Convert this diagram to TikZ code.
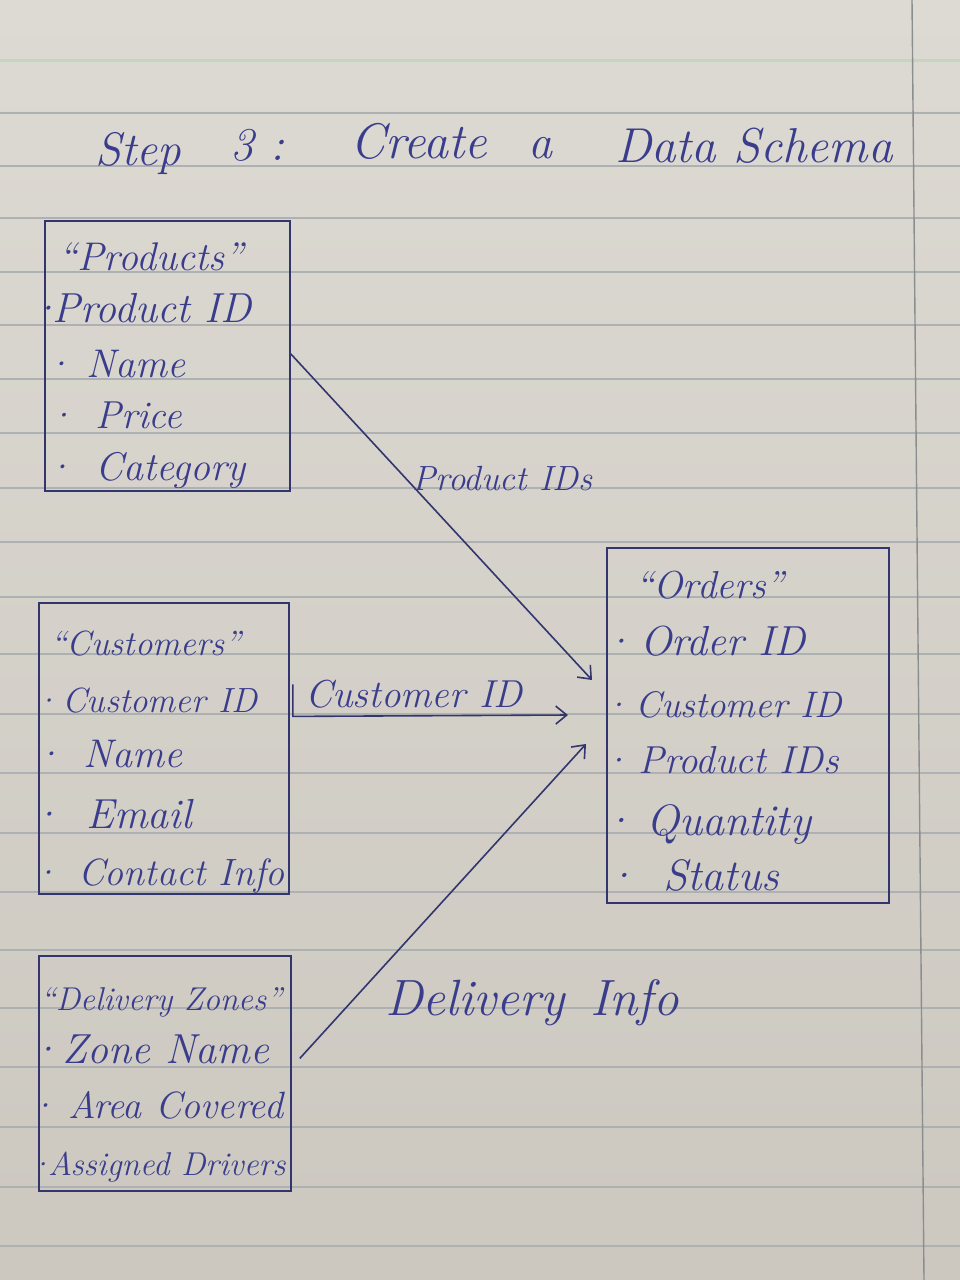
\documentclass[tikz,border=0pt]{standalone}
\usepackage{fontspec}
\usetikzlibrary{arrows.meta}
\definecolor{paper}{HTML}{DDDAD3}
\definecolor{paperdark}{HTML}{CCC8C0}
\definecolor{rule}{HTML}{AEB1B2}
\definecolor{ink}{HTML}{3A3D8C}
\definecolor{boxink}{HTML}{33356E}
% bullet hung to the left of the item text; the argument is the gap
% from the dot to the first letter
\newcommand{\bul}[1][10pt]{\makebox[0pt][r]{·\hspace{\dimexpr #1-0.32em\relax}}}
\newcommand{\penfont}[1]{\fontsize{#1}{#1}\selectfont\itshape}
\tikzset{
  hand/.style={font=\penfont{40}, text=ink, inner sep=0pt, anchor=base west},
  fs/.style={font=\penfont{#1}},
  tablebox/.style={draw=boxink, line width=1.8pt, inner sep=0pt, anchor=north west},
  link/.style={draw=boxink, line width=1.6pt, -{Straight Barb[length=11pt,width=18pt,line width=1.6pt]}},
  ruled/.style={draw=rule, line width=1.4pt}
}
\begin{document}
\begin{tikzpicture}[x=1pt,y=-1pt]
\useasboundingbox (0,0) rectangle (960,1280);
% notebook page
\shade[top color=paper, bottom color=paperdark] (0,0) rectangle (960,1280);
\foreach \yy in {113,166,218,272,325,379,433,488,542,597,654,714,773,833,892,950,1008,1067,1127,1187,1246}
  \draw[ruled] (0,\yy) -- (960,\yy);
\draw[draw=rule!60!green!70!black!40, line width=3pt, opacity=0.6] (0,60) -- (960,60);
\draw[draw=rule!80!black, line width=1.4pt] (912,0) -- (924,1280);

% heading
\node[hand, fs=47] (t1) at (95,165) {Step};
\node[hand, fs=47] (t2) at (230,160) {3 :};
\node[hand, fs=50] (t3) at (350,158) {Create};
\node[hand, fs=48] (t4) at (528,158) {a};
\node[hand, fs=49] (t5) at (615,162) {Data Schema};

% Products table
\node[tablebox, minimum width=245pt, minimum height=270pt] (prod) at (44,220) {};
\node[hand, fs=40] (p0) at (58,270) {“Products”};
\node[hand, fs=42] (p1) at (52,322) {\bul[5pt]Product ID};
\node[hand, fs=40] (p2) at (86,377) {\bul[26pt]Name};
\node[hand, fs=39] (p3) at (95,428) {\bul[32pt]Price};
\node[hand, fs=40] (p4) at (95,480) {\bul[34pt]Category};

% Customers table
\node[tablebox, minimum width=250pt, minimum height=291pt] (cust) at (38,602) {};
\node[hand, fs=35] (c0) at (50,655) {“Customers”};
\node[hand, fs=35] (c1) at (62,712) {\bul[14pt]Customer ID};
\node[hand, fs=40] (c2) at (83,767) {\bul[33pt]Name};
\node[hand, fs=42] (c3) at (86,828) {\bul[38pt]Email};
\node[hand, fs=38] (c4) at (78,885) {\bul[30pt]Contact Info};

% Orders table
\node[tablebox, minimum width=282pt, minimum height=355pt] (ord) at (606,547) {};
\node[hand, fs=39] (o0) at (635,598) {“Orders”};
\node[hand, fs=42] (o1) at (640,655) {\bul[20pt]Order ID};
\node[hand, fs=37] (o2) at (635,717) {\bul[17pt]Customer ID};
\node[hand, fs=39] (o3) at (638,773) {\bul[20pt]Product IDs};
\node[hand, fs=44] (o4) at (646,835) {\bul[26pt]Quantity};
\node[hand, fs=44] (o5) at (663,890) {\bul[40pt]Status};

% Delivery Zones table
\node[tablebox, minimum width=252pt, minimum height=235pt] (zone) at (38,955) {};
\node[hand, fs=33] (z0) at (40,1010) {“Delivery Zones”};
\node[hand, fs=42] (z1) at (62,1063) {\bul[15pt]Zone Name};
\node[hand, fs=38] (z2) at (68,1118) {\bul[23pt]Area Covered};
\node[hand, fs=33] (z3) at (48,1175) {\bul[6pt]Assigned Drivers};

% relationships
\coordinate (inProd) at (592,680);
\coordinate (inCust) at (568,715);
\coordinate (inZone) at (586,744);
\coordinate (custTick) at ([shift={(3,-64)}]cust.east);
\draw[link] ([yshift=2pt]prod.east) -- (inProd);
\draw[link] (custTick) -- ([shift={(3,-32)}]cust.east) -- (inCust);
\draw[link] ([shift={(8,-15)}]zone.east) -- (inZone);

\node[hand, fs=35] (l1) at (412,490) {Product IDs};
\node[hand, fs=39] (l2) at (305,707) {Customer ID};
\node[hand, fs=51] (l3) at (385,1015) {Delivery\enspace Info};
\end{tikzpicture}
\end{document}
